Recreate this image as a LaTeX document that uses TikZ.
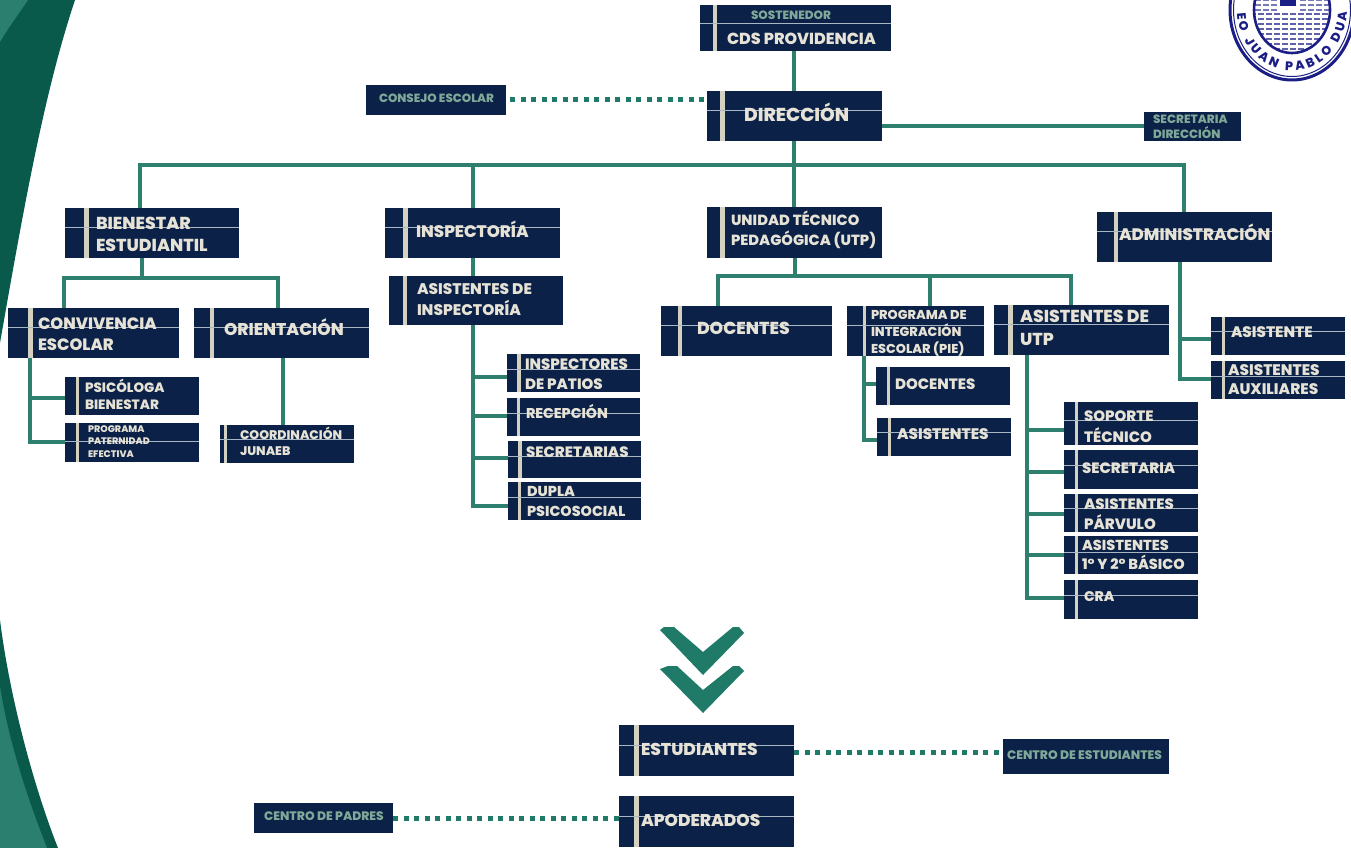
\documentclass[tikz,border=0pt]{standalone}
\usepackage{fontspec}
\setmainfont{Poppins}[BoldFont={Poppins ExtraBold}]
\usetikzlibrary{decorations.text}
\setlength{\normallineskiplimit}{-100pt}
\definecolor{navy}{HTML}{0B2148}
\definecolor{cream}{HTML}{E6E3D6}
\definecolor{stripecol}{HTML}{D5D1C0}
\definecolor{rulecol}{HTML}{A9B6C4}
\definecolor{sage}{HTML}{7FA898}
\definecolor{conncol}{HTML}{2F7F6F}
\definecolor{dotcol}{HTML}{1F7A68}
\definecolor{deep}{HTML}{0A5A4C}
\definecolor{tealband}{HTML}{2A7F6E}
\definecolor{seal}{HTML}{1B1F85}
\tikzset{
  box/.style={fill=navy,draw=none,inner sep=0pt,outer sep=0pt},
  linkline/.style={draw=conncol,line width=3.8pt,line join=miter},
  dotline/.style={draw=dotcol,line width=5pt,dash pattern=on 5pt off 5.5pt},
  stripebar/.style={fill=stripecol,draw=none},
  midrule/.style={draw=rulecol,line width=.7pt},
  lab/.style={anchor=north west,inner sep=0pt,outer sep=0pt,align=left,text=cream},
  sagelab/.style={lab,text=sage}
}
% name x1 y1 x2 y2 s1 s2 liney
\newcommand{\obox}[8]{%
  \node[box,minimum width={(#4-#2)*1pt},minimum height={(#5-#3)*1pt}] (#1) at ({(#2+#4)/2},{(#3+#5)/2}) {};
  \ifnum#6>0 \fill[stripebar] (#6,#3) rectangle (#7,#5);\fi
  \ifnum#8>0 \draw[midrule] (#2,#8) -- (#4,#8);\fi
}
% name x cy size leading text
\newcommand{\olab}[7][lab]{%
  \node[#1,font={\fontsize{#5}{#6}\selectfont\bfseries}] (#2) at ({#3},{#4-.65*#5}) {\rule{0pt}{#5pt}#7};
}
\begin{document}
\begin{tikzpicture}[x=1pt,y=-1pt]
\useasboundingbox (0,0) rectangle (1351,848);
\fill[white] (0,0) rectangle (1351,848);
\begin{scope}
\clip (0,0) rectangle (1351,848);
% side bands
\fill[deep] (0,0) -- (75,0) .. controls (45,90) and (25,200) .. (0,343) -- cycle;
\fill[tealband] (0,0) -- (28,0) .. controls (18,15) and (8,28) .. (0,42) -- cycle;
\fill[deep] (0,620) .. controls (10,700) and (35,790) .. (58,848) -- (0,848) -- cycle;
\fill[tealband] (0,686) .. controls (8,740) and (28,800) .. (47,848) -- (0,848) -- cycle;
% seal
\draw[seal,line width=3pt,fill=white] (1292,10) ellipse [x radius=62,y radius=70];
\draw[seal,line width=1pt] (1292,10) ellipse [x radius=58.5,y radius=66.5];
\begin{scope}
\clip (1292,10) ellipse [x radius=38,y radius=43];
\fill[white] (1240,-40) rectangle (1340,60);
\foreach \yy in {14,19,24,29,34,39,44,49}
  \draw[seal!70,line width=1.5pt,dash pattern=on 6pt off 2pt] (1250,\yy) -- (1335,\yy);
\foreach \yy in {0,5,10}
  {\draw[seal!60,line width=1.5pt,dash pattern=on 6pt off 2pt] (1255,\yy) -- (1277,\yy);
   \draw[seal!60,line width=1.5pt,dash pattern=on 6pt off 2pt] (1300,\yy) -- (1335,\yy);}
\fill[seal] (1280,0) rectangle (1296,6);
\end{scope}
\draw[seal,line width=2.6pt] (1292,10) ellipse [x radius=38,y radius=43];
\begin{scope}[shift={(1292,10)},x=1pt,y=1pt]
\path[postaction={decorate,decoration={text along path,text align={fit to path},
  text={|\fontsize{12.5}{13}\selectfont\bfseries\color{seal}|EO JUAN PABLO DUA}}}]
  (-55,-3) arc [start angle=183,end angle=358,x radius=55,y radius=61];
\end{scope}
\end{scope}

% boxes
\obox{sost}{700}{5}{891}{51}{713}{717}{23}
\olab[sagelab]{sostT}{751}{15.5}{12}{14}{SOSTENEDOR}
\olab{cdsT}{727}{38.5}{16}{18}{CDS PROVIDENCIA}
\obox{dir}{707}{91}{882}{141}{720}{725}{110}
\olab{dirT}{744}{115}{18.7}{20}{DIRECCIÓN}
\obox{consejo}{366}{85}{506}{115}{0}{0}{0}
\olab[sagelab]{consejoT}{379}{98.5}{11.9}{14}{CONSEJO ESCOLAR}
\obox{secdir}{1144}{112}{1241}{141}{0}{0}{0}
\olab[sagelab]{secdirT}{1153}{119.5}{12}{15}{SECRETARIA\\DIRECCIÓN}

\obox{bien}{65}{208}{239}{258}{84}{89}{227}
\olab{bienT}{96}{223.5}{17.3}{21.5}{BIENESTAR\\ESTUDIANTIL}
\obox{conv}{8}{308}{179}{358}{28}{33}{327}
\olab{convT}{38}{323.5}{16.4}{21.5}{CONVIVENCIA\\ESCOLAR}
\obox{orie}{194}{308}{369}{358}{210}{214}{327}
\olab{orieT}{224}{329.5}{17}{20}{ORIENTACIÓN}
\obox{psic}{65}{377}{199}{415}{76}{79}{0}
\olab{psicT}{85}{388}{13.5}{17}{PSICÓLOGA\\BIENESTAR}
\obox{prog}{65}{423}{199}{462}{76}{79}{441}
\olab{progT}{88}{429}{9.5}{12.5}{PROGRAMA\\PATERNIDAD\\EFECTIVA}
\obox{coord}{220}{425}{354}{463}{224}{227}{439}
\olab{coordT}{240}{435}{12.5}{16.5}{COORDINACIÓN\\JUNAEB}

\obox{insp}{385}{208}{560}{258}{403}{408}{227}
\olab{inspT}{416}{232}{16.7}{20}{INSPECTORÍA}
\obox{asin}{389}{276}{563}{325}{403}{407}{0}
\olab{asinT}{417}{289.5}{15.4}{21}{ASISTENTES DE\\INSPECTORÍA}
\obox{ipat}{507}{354}{640}{392}{517}{521}{369}
\olab{ipatT}{525}{364}{15}{20}{INSPECTORES\\DE PATIOS}
\obox{rece}{507}{398}{640}{436}{517}{520}{413}
\olab{receT}{526}{414}{14.2}{17}{RECEPCIÓN}
\obox{secs}{508}{441}{641}{478}{518}{522}{456}
\olab{secsT}{526}{452}{15}{17}{SECRETARIAS}
\obox{dupl}{508}{482}{641}{520}{518}{521}{497}
\olab{duplT}{527}{491}{14.4}{20}{DUPLA\\PSICOSOCIAL}

\obox{utp}{707}{207}{882}{258}{720}{725}{0}
\olab{utpT}{731}{220}{14.7}{20}{UNIDAD TÉCNICO\\PEDAGÓGICA (UTP)}
\obox{doce}{661}{306}{832}{356}{678}{682}{325}
\olab{doceT}{697}{328}{17.3}{20}{DOCENTES}
\obox{pie}{847}{306}{984}{356}{863}{866}{325}
\olab{pieT}{871}{314.5}{12.9}{17.3}{PROGRAMA DE\\INTEGRACIÓN\\ESCOLAR (PIE)}
\obox{autp}{994}{305}{1169}{355}{1008}{1013}{324}
\olab{autpT}{1020}{316}{17.3}{23}{ASISTENTES DE\\UTP}
\obox{doc2}{876}{367}{1010}{405}{887}{890}{0}
\olab{doc2T}{895}{384}{15}{17}{DOCENTES}
\obox{asi2}{877}{418}{1011}{456}{888}{891}{432}
\olab{asi2T}{897}{434}{15.3}{17}{ASISTENTES}

\obox{admi}{1097}{212}{1272}{262}{1114}{1118}{231}
\olab{admiT}{1119}{234.5}{16.7}{20}{ADMINISTRACIÓN}
\obox{asis}{1211}{317}{1345}{355}{1222}{1225}{331}
\olab{asisT}{1231}{332}{15.2}{17}{ASISTENTE}
\obox{auxi}{1211}{361}{1345}{399}{1222}{1225}{376}
\olab{auxiT}{1228}{370}{15.3}{19.5}{ASISTENTES\\AUXILIARES}

\obox{sopo}{1064}{402}{1198}{445}{1075}{1078}{420}
\olab{sopoT}{1084}{416.5}{15}{20.5}{SOPORTE\\TÉCNICO}
\obox{secr}{1064}{450}{1198}{489}{1075}{1078}{465}
\olab{secrT}{1082}{468}{15}{17}{SECRETARIA}
\obox{parv}{1064}{494}{1198}{532}{1075}{1078}{508}
\olab{parvT}{1084}{504}{15}{20}{ASISTENTES\\PÁRVULO}
\obox{basi}{1064}{536}{1198}{574}{1075}{1078}{552}
\olab{basiT}{1082}{545.5}{14.5}{18.5}{ASISTENTES\\1° Y 2° BÁSICO}
\obox{cra}{1064}{580}{1198}{619}{1075}{1078}{595}
\olab{craT}{1084}{597}{14}{17}{CRA}

\obox{estu}{619}{725}{794}{776}{634}{639}{745}
\olab{estuT}{641}{749.5}{17.1}{20}{ESTUDIANTES}
\obox{apod}{619}{796}{794}{847}{634}{639}{816}
\olab{apodT}{641}{820.5}{17}{20}{APODERADOS}
\obox{cest}{1003}{739}{1169}{774}{0}{0}{0}
\olab[sagelab]{cestT}{1007}{755.5}{12.3}{14}{CENTRO DE ESTUDIANTES}
\obox{cpad}{254}{803}{393}{833}{0}{0}{0}
\olab[sagelab]{cpadT}{264}{816}{12.3}{14}{CENTRO DE PADRES}

% chevrons
\fill[dotcol] (660,630) -- (664,627) -- (674,627) -- (703,652) -- (733,627) -- (739,627) -- (744,633) -- (703,675) -- cycle;
\fill[dotcol] (660,669) -- (668,666) -- (677,666) -- (703,690) -- (733,666) -- (739,666) -- (744,671) -- (703,713) -- cycle;

% trunk coordinates
\coordinate (busC) at (794,165);
\coordinate (busL) at (140,165);
\coordinate (busI) at (473,165);
\coordinate (busR) at (1184,165);
\coordinate (bienBus) at (142,278);
\coordinate (bienL) at (64,278);
\coordinate (bienR) at (278,278);
\coordinate (convX) at (30,358);
\coordinate (convE) at (30,442);
\coordinate (inspX) at (473,506);
\coordinate (utpBus) at (795,276);
\coordinate (utpL) at (718,276);
\coordinate (utpM) at (930,276);
\coordinate (utpR) at (1071,276);
\coordinate (pieX) at (864,440);
\coordinate (autpX) at (1027,598);
\coordinate (admiX) at (1180,379);
\coordinate (orieX) at (283,358);

% connectors
\draw[linkline] (sost.south -| busC) -- (busC |- dir.north);
\draw[linkline] (dir.south -| busC) -- (busC);
\draw[linkline] (dir.east |- 0,126) -- (secdir.west |- 0,126);
\draw[linkline] (busL |- bien.north) -- (busL) -- (busR) -- (busR |- admi.north);
\draw[linkline] (busI) -- (busI |- insp.north);
\draw[linkline] (busC) -- (busC |- utp.north);
\draw[linkline] (bienBus |- bien.south) -- (bienBus);
\draw[linkline] (bienL |- conv.north) -- (bienL) -- (bienR) -- (bienR |- orie.north);
\draw[linkline] (convX) -- (convE) -- (convE -| prog.west);
\draw[linkline] (30,398) -- (psic.west |- 0,398);
\draw[linkline] (orieX) -- (orieX |- coord.north);
\draw[linkline] (busI |- insp.south) -- (busI |- asin.north);
\draw[linkline] (busI |- asin.south) -- (inspX) -- (inspX -| dupl.west);
\draw[linkline] (473,377) -- (ipat.west |- 0,377);
\draw[linkline] (473,416) -- (rece.west |- 0,416);
\draw[linkline] (473,458) -- (secs.west |- 0,458);
\draw[linkline] (utpBus |- utp.south) -- (utpBus);
\draw[linkline] (utpL |- doce.north) -- (utpL) -- (utpR) -- (utpR |- autp.north);
\draw[linkline] (utpM) -- (utpM |- pie.north);
\draw[linkline] (pieX |- pie.south) -- (pieX) -- (pieX -| asi2.west);
\draw[linkline] (864,384) -- (doc2.west |- 0,384);
\draw[linkline] (autpX |- autp.south) -- (autpX) -- (autpX -| cra.west);
\draw[linkline] (1027,430) -- (sopo.west |- 0,430);
\draw[linkline] (1027,472) -- (secr.west |- 0,472);
\draw[linkline] (1027,514) -- (parv.west |- 0,514);
\draw[linkline] (1027,555) -- (basi.west |- 0,555);
\draw[linkline] (admiX |- admi.south) -- (admiX) -- (admiX -| auxi.west);
\draw[linkline] (1180,339) -- (asis.west |- 0,339);
\draw[dotline] (consejo.east |- 0,100) ++(4,0) -- (dir.west |- 0,100);
\draw[dotline] (estu.east |- 0,752) -- (cest.west |- 0,752);
\draw[dotline] (cpad.east |- 0,818) -- (apod.west |- 0,818);
\end{tikzpicture}
\end{document}
